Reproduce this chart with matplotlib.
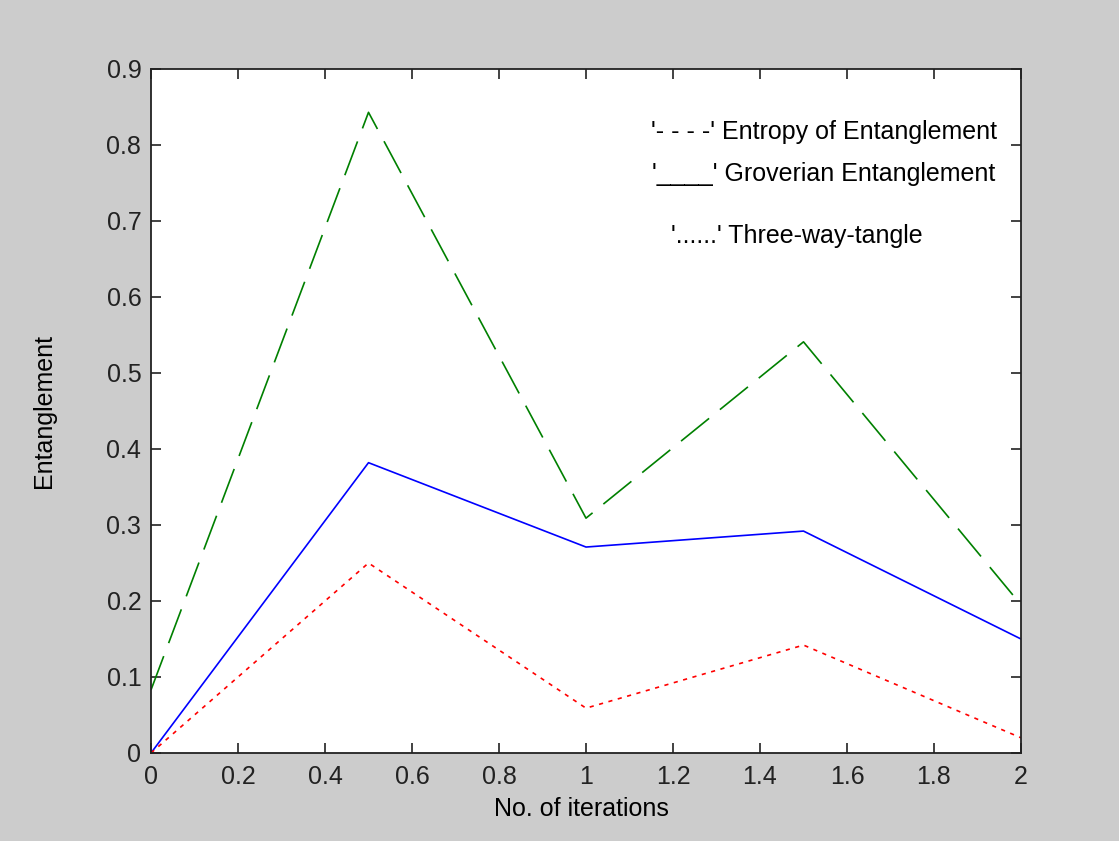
import matplotlib
matplotlib.use("Agg")
import matplotlib.pyplot as plt

# data
iterations = [0, 0.5, 1, 1.5, 2]
entropy = [0.083, 0.843, 0.309, 0.541, 0.195]
groverian = [0.0, 0.382, 0.271, 0.292, 0.150]
tangle = [0.0, 0.250, 0.059, 0.142, 0.020]

x_ticks = [0, 0.2, 0.4, 0.6, 0.8, 1, 1.2, 1.4, 1.6, 1.8, 2]
x_tick_labels = ["0", "0.2", "0.4", "0.6", "0.8", "1", "1.2", "1.4", "1.6", "1.8", "2"]
y_ticks = [0, 0.1, 0.2, 0.3, 0.4, 0.5, 0.6, 0.7, 0.8, 0.9]
y_tick_labels = ["0", "0.1", "0.2", "0.3", "0.4", "0.5", "0.6", "0.7", "0.8", "0.9"]

plt.rcParams["font.family"] = ["Liberation Sans", "DejaVu Sans"]
plt.rcParams["lines.scale_dashes"] = False

FS = 18

fig = plt.figure(figsize=(11.19, 8.41), dpi=100)
fig.patch.set_facecolor("#cccccc")
ax = fig.add_axes([151 / 1119, 88 / 841, 870 / 1119, 684 / 841])
ax.set_facecolor("white")

ax.plot(iterations, entropy, color="#008000", lw=1.2, dashes=(26, 10))
ax.plot(iterations, groverian, color="#0000ff", lw=1.2)
ax.plot(iterations, tangle, color="#ff0000", lw=1.2, dashes=(3, 4))

ax.set_xlim(0, 2)
ax.set_ylim(0, 0.9)
ax.set_xticks(x_ticks)
ax.set_xticklabels(x_tick_labels)
ax.set_yticks(y_ticks)
ax.set_yticklabels(y_tick_labels)
ax.tick_params(direction="in", length=7, width=1.2, labelsize=FS,
               top=True, right=True, colors="#222222")
ax.tick_params(axis="x", pad=9)
ax.tick_params(axis="y", pad=7)
for sp in ax.spines.values():
    sp.set_linewidth(1.3)
    sp.set_color("#222222")

ax.set_xlabel("No. of iterations", fontsize=FS)
ax.set_ylabel("Entanglement", fontsize=FS)
ax.xaxis.set_label_coords(0.495, -0.064)
ax.yaxis.set_label_coords(-0.109, 0.5)

# hand-made key, drawn as plain text like the original
ax.text(651 / 1119, 1 - 132 / 841, "'- - - -' Entropy of Entanglement",
        transform=fig.transFigure, fontsize=FS, va="center", ha="left")
ax.text(652 / 1119, 1 - 174 / 841, "'____' Groverian Entanglement",
        transform=fig.transFigure, fontsize=FS, va="center", ha="left")
ax.text(671 / 1119, 1 - 236 / 841, "'......' Three-way-tangle",
        transform=fig.transFigure, fontsize=FS, va="center", ha="left")

fig.savefig("out.png", dpi=100, facecolor=fig.get_facecolor())
